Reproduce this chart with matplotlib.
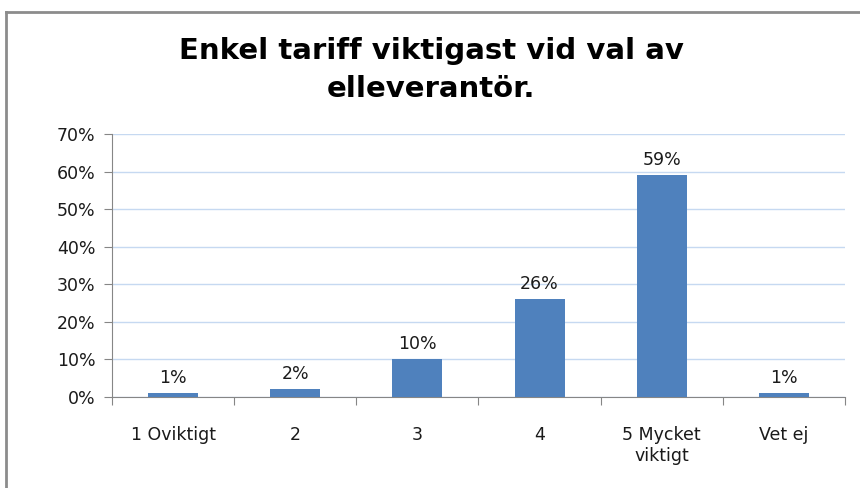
import matplotlib.pyplot as plt
from matplotlib.lines import Line2D
from matplotlib.ticker import FuncFormatter

categories = ['1 Oviktigt', '2', '3', '4', '5 Mycket\nviktigt', 'Vet ej']
values = [1, 2, 10, 26, 59, 1]
yticks = [0, 10, 20, 30, 40, 50, 60, 70]

W, H = 860, 488
fig = plt.figure(figsize=(W / 100, H / 100), dpi=100)
ax = fig.add_axes([112 / W, 1 - 397 / H, (845 - 112) / W, (397 - 134) / H])

x = range(len(categories))
ax.bar(x, values, width=0.41, color='#4f81bd', zorder=3)
for xi, v in zip(x, values):
    ax.text(xi, v + 1.6, f'{v}%', ha='center', va='bottom', fontsize=12.5,
            color='#1a1a1a')

ax.set_xlim(-0.5, len(categories) - 0.5)
ax.set_ylim(0, 70)
ax.set_yticks(yticks)
ax.yaxis.set_major_formatter(FuncFormatter(lambda v, p: f'{v:.0f}%'))
ax.set_xticks([i - 0.5 for i in range(len(categories) + 1)])
ax.set_xticklabels([])
ax.set_xticks(list(x), minor=True)
ax.set_xticklabels(categories, minor=True, fontsize=12.5, color='#1a1a1a',
                   va='top', linespacing=1.2)
ax.tick_params(axis='x', which='minor', length=0, pad=21)
ax.tick_params(axis='x', which='major', length=6, color='#868686',
               direction='out')
ax.tick_params(axis='y', length=6, color='#868686', labelsize=12.5,
               labelcolor='#1a1a1a', pad=6)
ax.grid(axis='y', color='#c6d9f1', linewidth=1, zorder=0)
for s in ['top', 'right']:
    ax.spines[s].set_visible(False)
for s in ['left', 'bottom']:
    ax.spines[s].set_color('#868686')

fig.text(431 / W, 1 - 70 / H, 'Enkel tariff viktigast vid val av\nelleverantör.',
         ha='center', va='center', fontsize=21, fontweight='bold',
         linespacing=1.45, color='black')

fig.add_artist(Line2D([6 / W, 6 / W], [0, 1 - 12 / H], color='#8c8c8c',
                      linewidth=2, transform=fig.transFigure))
fig.add_artist(Line2D([6 / W, 1], [1 - 12 / H, 1 - 12 / H], color='#8c8c8c',
                      linewidth=2, transform=fig.transFigure))

fig.savefig('out.png', dpi=100)
